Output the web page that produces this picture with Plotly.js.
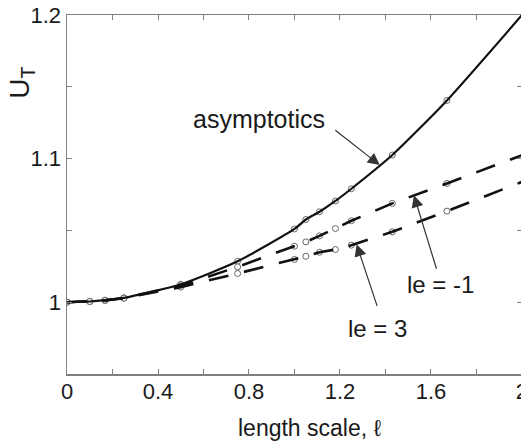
<!DOCTYPE html>
<html>
<head>
<meta charset="utf-8">
<script src="https://cdn.plot.ly/plotly-3.0.1.min.js"></script>
<style>
  html, body { margin: 0; padding: 0; overflow: hidden; background: #fff; }
  #plot { width: 522px; height: 445px; }
</style>
</head>
<body>
<div id="plot"></div>
<script>
// length scale values where the solutions were computed
const lengthScale = [0, 0.1, 0.167, 0.25, 0.5, 0.75, 1.0, 1.05, 1.11, 1.18, 1.25, 1.43, 1.67];
// U_T from the asymptotic expansion
const asymptoticsU = [1.0, 1.0005, 1.0014, 1.003, 1.0125, 1.0285, 1.051, 1.0576, 1.063, 1.0705, 1.079, 1.1025, 1.1405];
// U_T for le = -1 and le = 3
const leMinus1U = [1.0, 1.0005, 1.0013, 1.0029, 1.0115, 1.0246, 1.039, 1.042, 1.0462, 1.0513, 1.0567, 1.0688, 1.0827];
const le3U = [1.0, 1.0005, 1.0013, 1.0028, 1.0105, 1.020, 1.0298, 1.032, 1.0348, 1.0367, 1.0397, 1.049, 1.0634];
// curves continue to the edge of the axes
const curveEndX = 2.0;
const asymptoticsEndU = 1.2;
const leMinus1EndU = 1.1024;
const le3EndU = 1.0838;

const xTickVals = [0, 0.2, 0.4, 0.6, 0.8, 1.0, 1.2, 1.4, 1.6, 1.8, 2.0];
const xTickText = ['0', '', '0.4', '', '0.8', '', '1.2', '', '1.6', '', '2'];
const yTickVals = [0.95, 1.0, 1.05, 1.1, 1.15, 1.2];
const yTickText = ['', '1', '', '1.1', '', '1.2'];

const FONT = 'Liberation Sans, Arial, Helvetica, sans-serif';
const INK = '#1a1a1a';
const AXIS = '#808080';

const markerStyle = {symbol: 'circle', size: 6, color: '#ffffff', line: {color: '#666666', width: 1}};

const traces = [
  {x: lengthScale, y: asymptoticsU, mode: 'markers', marker: markerStyle, hoverinfo: 'skip'},
  {x: lengthScale, y: leMinus1U, mode: 'markers', marker: markerStyle, hoverinfo: 'skip'},
  {x: lengthScale, y: le3U, mode: 'markers', marker: markerStyle, hoverinfo: 'skip'},
  {x: lengthScale.concat([curveEndX]), y: le3U.concat([le3EndU]), mode: 'lines',
   line: {color: '#111111', width: 2.6, dash: '20px,16px'}},
  {x: lengthScale.concat([curveEndX]), y: leMinus1U.concat([leMinus1EndU]), mode: 'lines',
   line: {color: '#111111', width: 2.6, dash: '20px,16px'}},
  {x: lengthScale.concat([curveEndX]), y: asymptoticsU.concat([asymptoticsEndU]), mode: 'lines',
   line: {color: '#111111', width: 2.2, shape: 'spline', smoothing: 0.6}}
];

const arrow = {showarrow: true, text: '', arrowhead: 2, arrowsize: 2, arrowwidth: 1.2,
               arrowcolor: '#333333', xref: 'x', yref: 'y'};
const label = {showarrow: false, xref: 'x', yref: 'y', font: {family: FONT, size: 24, color: INK}};

const layout = {
  width: 522, height: 445,
  margin: {l: 67, r: 0, t: 15, b: 71},
  paper_bgcolor: '#ffffff', plot_bgcolor: '#ffffff',
  showlegend: false,
  font: {family: FONT, size: 22, color: INK},
  xaxis: {
    range: [0, 2.0001], tickvals: xTickVals, ticktext: xTickText,
    ticks: 'inside', ticklen: 5, tickwidth: 1, tickcolor: AXIS,
    showline: true, linecolor: AXIS, linewidth: 1.5, mirror: 'ticks',
    showgrid: false, zeroline: false, ticklabeloverflow: 'allow', ticklabelstandoff: -3,
    tickfont: {family: FONT, size: 22, color: INK}
  },
  yaxis: {
    range: [0.95, 1.2], tickvals: yTickVals, ticktext: yTickText,
    ticks: 'inside', ticklen: 5, tickwidth: 1, tickcolor: AXIS,
    showline: true, linecolor: AXIS, linewidth: 1.5, mirror: 'ticks',
    showgrid: false, zeroline: false,
    tickfont: {family: FONT, size: 22, color: INK}
  },
  annotations: [
    // axis titles
    {text: 'length scale, ℓ', xref: 'paper', yref: 'paper', x: 0.534, y: -0.15,
     xanchor: 'center', yanchor: 'middle', showarrow: false,
     font: {family: FONT, size: 23, color: INK}},
    {text: 'U<sub>T</sub>', xref: 'paper', yref: 'paper', x: -0.1, y: 0.81,
     xanchor: 'center', yanchor: 'middle', textangle: -90, showarrow: false,
     font: {family: FONT, size: 28, color: INK}},
    // curve labels
    Object.assign({}, label, {text: 'asymptotics', x: 0.842, y: 1.1275, font: {family: FONT, size: 25, color: INK}}),
    Object.assign({}, label, {text: 'le = -1', x: 1.64, y: 1.0124}),
    Object.assign({}, label, {text: 'le = 3', x: 1.363, y: 0.9817}),
    // arrows pointing at each curve
    Object.assign({}, arrow, {x: 1.375, y: 1.0955, ax: -46, ay: -36}),
    Object.assign({}, arrow, {x: 1.525, y: 1.0745, ax: 23, ay: 75}),
    Object.assign({}, arrow, {x: 1.273, y: 1.0403, ax: 21, ay: 63})
  ]
};

Plotly.newPlot('plot', traces, layout, {displayModeBar: false, staticPlot: true});
</script>
</body>
</html>
